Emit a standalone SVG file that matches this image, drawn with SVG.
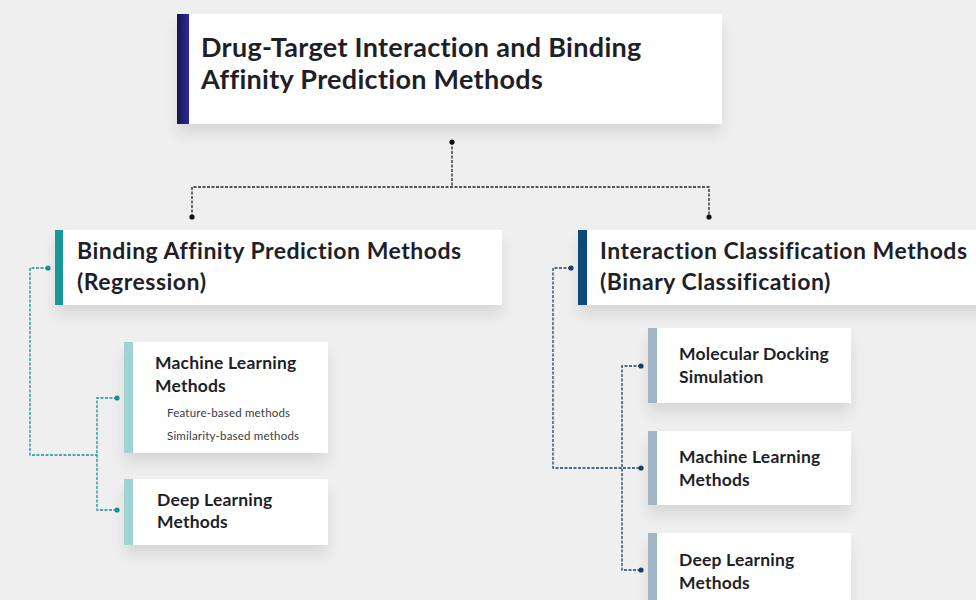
<svg xmlns="http://www.w3.org/2000/svg" width="976" height="600" viewBox="0 0 976 600">
<defs>
<linearGradient id="navy" x1="0" y1="0" x2="1" y2="0">
<stop offset="0" stop-color="#15154a"/>
<stop offset="1" stop-color="#2b2b9e"/>
</linearGradient>
<filter id="sh" x="-10%" y="-10%" width="120%" height="160%">
<feGaussianBlur in="SourceAlpha" stdDeviation="7"/>
<feOffset dx="0" dy="10" result="b"/>
<feComponentTransfer><feFuncA type="linear" slope="0.10"/></feComponentTransfer>
<feMerge><feMergeNode/><feMergeNode in="SourceGraphic"/></feMerge>
</filter>
</defs>
<style>
.box{fill:#ffffff;filter:url(#sh)}
.t{font-family:Lato,"Noto Sans",sans-serif;font-weight:700;fill:#1e1f29}
.t1{font-size:27px;letter-spacing:0.3px}
.t2{font-size:23px;letter-spacing:0.5px}
.t3{font-size:17.5px;letter-spacing:0.2px}
.s{font-family:Lato,"Noto Sans",sans-serif;font-size:11.5px;letter-spacing:0.2px;fill:#3a3a40}
.ck{fill:none;stroke:#222;stroke-width:1.3;stroke-dasharray:3 1.5}
.ct{fill:none;stroke:#1a8f92;stroke-width:1.3;stroke-dasharray:3 1.5}
.cb{fill:none;stroke:#1c3f66;stroke-width:1.3;stroke-dasharray:3 1.5}
.dk{fill:#111}
.dt{fill:#1a8f92}
.db{fill:#1c3f66}
</style>
<rect width="976" height="600" fill="#efefef"/>
<g id="connectors">
<path class="ck" d="M452 142 V187 M192 217 V187 H709 V217"/>
<circle class="dk" cx="452" cy="142" r="2.6"/>
<circle class="dk" cx="192" cy="217" r="2.6"/>
<circle class="dk" cx="709" cy="217" r="2.6"/>
<path class="ct" d="M48 268 H30 V455 H97"/>
<circle class="dt" cx="48" cy="268" r="2.6"/>
<path class="ct" d="M117 398 H97 V510 H117"/>
<circle class="dt" cx="117" cy="398" r="2.6"/>
<circle class="dt" cx="117" cy="510" r="2.6"/>
<path class="cb" d="M571 268 H553 V468 H641"/>
<circle class="db" cx="571" cy="268" r="2.6"/>
<path class="cb" d="M641 366 H622 V570 H641"/>
<circle class="db" cx="641" cy="366" r="2.6"/>
<circle class="db" cx="641" cy="468" r="2.6"/>
<circle class="db" cx="641" cy="570" r="2.6"/>
</g>
<g id="root">
<rect class="box" x="177" y="14" width="545" height="110"/>
<rect x="177" y="14" width="12" height="110" fill="url(#navy)"/>
<text class="t t1" x="201" y="57">Drug-Target Interaction and Binding</text>
<text class="t t1" x="201" y="89">Affinity Prediction Methods</text>
</g>
<g id="regression">
<rect class="box" x="55" y="230" width="447" height="75"/>
<rect x="55" y="230" width="8" height="75" fill="#17999a"/>
<text class="t t2" x="77" y="259">Binding Affinity Prediction Methods</text>
<text class="t t2" x="77" y="290">(Regression)</text>
</g>
<g id="classification">
<rect class="box" x="578" y="230" width="410" height="75"/>
<rect x="578" y="230" width="9" height="75" fill="#0e4a79"/>
<text class="t t2" x="600" y="259">Interaction Classification Methods</text>
<text class="t t2" x="600" y="290">(Binary Classification)</text>
</g>
<g id="reg-ml">
<rect class="box" x="124" y="342" width="204" height="111"/>
<rect x="124" y="342" width="9" height="111" fill="#9fd3d4"/>
<text class="t t3" x="155" y="369">Machine Learning</text>
<text class="t t3" x="155" y="392">Methods</text>
<text class="s" x="167" y="417">Feature-based methods</text>
<text class="s" x="167" y="440">Similarity-based methods</text>
</g>
<g id="reg-dl">
<rect class="box" x="124" y="479" width="204" height="66"/>
<rect x="124" y="479" width="9" height="66" fill="#9fd3d4"/>
<text class="t t3" x="157" y="506">Deep Learning</text>
<text class="t t3" x="157" y="528">Methods</text>
</g>
<g id="cls-dock">
<rect class="box" x="648" y="328" width="203" height="75"/>
<rect x="648" y="328" width="9" height="75" fill="#a2b5c5"/>
<text class="t t3" x="679" y="360">Molecular Docking</text>
<text class="t t3" x="679" y="383">Simulation</text>
</g>
<g id="cls-ml">
<rect class="box" x="648" y="431" width="203" height="74"/>
<rect x="648" y="431" width="9" height="74" fill="#a2b5c5"/>
<text class="t t3" x="679" y="463">Machine Learning</text>
<text class="t t3" x="679" y="486">Methods</text>
</g>
<g id="cls-dl">
<rect class="box" x="648" y="533" width="203" height="80"/>
<rect x="648" y="533" width="9" height="80" fill="#a2b5c5"/>
<text class="t t3" x="679" y="566">Deep Learning</text>
<text class="t t3" x="679" y="589">Methods</text>
</g>
</svg>
